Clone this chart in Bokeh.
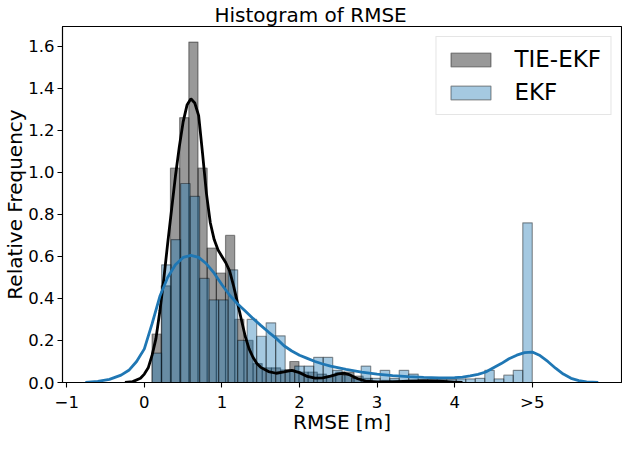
from bokeh.plotting import figure
from bokeh.models import Range1d, FixedTicker, PrintfTickFormatter, Legend, LegendItem
from bokeh.embed import file_html
from bokeh.resources import INLINE

# ---------------- data ----------------
tie_bin_start = 0.10
tie_bin_width = 0.1183
tie_heights = [0.23, 0.46, 1.02, 1.26, 1.62, 1.02, 0.64, 0.52, 0.70, 0.30,
               0.20, 0.09, 0.07, 0.07, 0.06, 0.10, 0.05, 0.05, 0.04, 0.03,
               0.05, 0.05, 0.03, 0.02, 0.0, 0.01, 0.01, 0.0, 0.01, 0.01,
               0.01, 0.01]

ekf_bin_start = 0.10
ekf_bin_width = 0.1225
ekf_heights = [0.14, 0.56, 0.68, 0.947, 0.886, 0.495, 0.393, 0.393, 0.536, 0.20,
               0.30, 0.22, 0.284, 0.222, 0.06, 0.078, 0.078, 0.12, 0.12, 0.058,
               0.035, 0.02, 0.078, 0.02, 0.058, 0.02, 0.058, 0.04, 0.015, 0.015,
               0.015, 0.015, 0.017, 0.017, 0.02, 0.058, 0.017, 0.035, 0.058, 0.76]

tie_kde_x = [-0.25, -0.15, -0.05, 0.0, 0.05, 0.10, 0.15, 0.20, 0.25, 0.30,
             0.35, 0.40, 0.45, 0.50, 0.55, 0.60, 0.65, 0.70, 0.75, 0.80,
             0.85, 0.90, 0.95, 1.00, 1.05, 1.10, 1.15, 1.20, 1.25, 1.30,
             1.35, 1.40, 1.45, 1.50, 1.60, 1.70, 1.80, 1.90, 2.00, 2.10,
             2.20, 2.30, 2.40, 2.50, 2.58, 2.65, 2.75, 2.85, 3.00, 3.20,
             3.40, 3.60, 3.80, 4.00, 4.10]
tie_kde_y = [0.0, 0.004, 0.02, 0.04, 0.07, 0.13, 0.21, 0.34, 0.49, 0.66,
             0.82, 0.98, 1.12, 1.24, 1.32, 1.35, 1.33, 1.27, 1.09, 0.90,
             0.76, 0.68, 0.63, 0.60, 0.57, 0.53, 0.46, 0.38, 0.30, 0.22,
             0.16, 0.12, 0.09, 0.072, 0.052, 0.044, 0.05, 0.058, 0.047, 0.029,
             0.021, 0.022, 0.03, 0.041, 0.044, 0.036, 0.018, 0.007, 0.003, 0.003,
             0.006, 0.008, 0.006, 0.002, 0.0]

ekf_kde_x = [-0.76, -0.6, -0.45, -0.3, -0.2, -0.1, 0.0, 0.1, 0.2, 0.3,
             0.4, 0.5, 0.6, 0.7, 0.8, 0.9, 1.0, 1.1, 1.2, 1.3,
             1.4, 1.5, 1.6, 1.7, 1.8, 1.9, 2.0, 2.1, 2.2, 2.3,
             2.4, 2.6, 2.8, 3.0, 3.2, 3.4, 3.6, 3.8, 4.0, 4.1,
             4.2, 4.3, 4.4, 4.5, 4.6, 4.7, 4.8, 4.9, 5.0, 5.1,
             5.2, 5.3, 5.4, 5.5, 5.6, 5.7, 5.85]
ekf_kde_y = [0.0, 0.005, 0.015, 0.035, 0.058, 0.10, 0.16, 0.28, 0.41, 0.50,
             0.56, 0.595, 0.605, 0.595, 0.565, 0.52, 0.465, 0.415, 0.375, 0.34,
             0.305, 0.272, 0.24, 0.21, 0.175, 0.15, 0.13, 0.115, 0.10, 0.088,
             0.078, 0.062, 0.049, 0.04, 0.033, 0.028, 0.024, 0.022, 0.023, 0.026,
             0.031, 0.039, 0.05, 0.07, 0.09, 0.113, 0.13, 0.142, 0.145, 0.128,
             0.10, 0.068, 0.04, 0.02, 0.009, 0.003, 0.0]

x_ticks = [-1, 0, 1, 2, 3, 4, 5]
x_tick_labels = {-1: "\u22121", 0: "0", 1: "1", 2: "2", 3: "3", 4: "4", 5: ">5"}
y_ticks = [0.0, 0.2, 0.4, 0.6, 0.8, 1.0, 1.2, 1.4, 1.6]

series_names = ["TIE-EKF", "EKF"]
title_text = "Histogram of RMSE"
x_label = "RMSE [m]"
y_label = "Relative Frequency"

# ---------------- plot ----------------
FONT = "DejaVu Sans"

p = figure(width=622, height=436, output_backend="svg", toolbar_location=None,
           x_range=Range1d(-1.055, 6.15), y_range=Range1d(0, 1.694),
           min_border_left=58, min_border_right=1, min_border_top=20,
           min_border_bottom=40, background_fill_color="white",
           border_fill_color="white")

p.title.text = title_text
p.title.text_font = FONT
p.title.text_font_size = "20px"
p.title.text_font_style = "normal"
p.title.text_color = "black"
p.title.align = "left"
p.title.offset = 152
p.title.standoff = 0

p.grid.visible = False
p.outline_line_color = "black"
p.outline_line_width = 1.1

tie_left = [tie_bin_start + i * tie_bin_width for i in range(len(tie_heights))]
tie_right = [l + tie_bin_width for l in tie_left]
ekf_left = [ekf_bin_start + i * ekf_bin_width for i in range(len(ekf_heights))]
ekf_right = [l + ekf_bin_width for l in ekf_left]

r_tie = p.quad(left=tie_left, right=tie_right, bottom=0, top=tie_heights,
               fill_color="black", fill_alpha=0.4,
               line_color="black", line_alpha=0.4, line_width=1.2)
r_ekf = p.quad(left=ekf_left, right=ekf_right, bottom=0, top=ekf_heights,
               fill_color="#1f77b4", fill_alpha=0.4,
               line_color="black", line_alpha=0.4, line_width=1.2)
p.line(tie_kde_x, tie_kde_y, line_color="black", line_width=2.8)
p.line(ekf_kde_x, ekf_kde_y, line_color="#1f77b4", line_width=2.8)

for ax in (p.xaxis, p.yaxis):
    ax.axis_line_color = "black"
    ax.axis_line_width = 1.1
    ax.major_tick_line_color = "black"
    ax.major_tick_line_width = 1.1
    ax.major_tick_out = 5
    ax.major_tick_in = 0
    ax.minor_tick_line_color = None
    ax.major_label_text_font = FONT
    ax.major_label_text_font_size = "16.5px"
    ax.major_label_text_color = "black"
    ax.axis_label_text_font = FONT
    ax.axis_label_text_font_size = "20px"
    ax.axis_label_text_font_style = "normal"
    ax.axis_label_text_color = "black"
    ax.major_label_standoff = 3

p.xaxis.ticker = FixedTicker(ticks=x_ticks)
p.xaxis.major_label_overrides = x_tick_labels
p.xaxis.major_label_standoff = 5
p.xaxis.axis_label = x_label
p.xaxis.axis_label_standoff = -5
p.xaxis.axis_label_text_line_height = 0.9
p.yaxis.ticker = FixedTicker(ticks=y_ticks)
p.yaxis.formatter = PrintfTickFormatter(format="%.1f")
p.yaxis.axis_label = y_label
p.yaxis.axis_label_standoff = -2

legend = Legend(items=[LegendItem(label=series_names[0], renderers=[r_tie]),
                       LegendItem(label=series_names[1], renderers=[r_ekf])],
                location="top_right")
legend.label_text_font = FONT
legend.label_text_font_size = "23px"
legend.label_text_color = "black"
legend.glyph_width = 50
legend.glyph_height = 17
legend.label_height = 26
legend.label_standoff = 19
legend.spacing = 7
legend.padding = 9
legend.margin = 10
legend.border_line_color = "#cccccc"
legend.border_line_width = 1
legend.background_fill_alpha = 0.8
p.add_layout(legend)

open("out.html", "w").write(file_html(p, INLINE))
